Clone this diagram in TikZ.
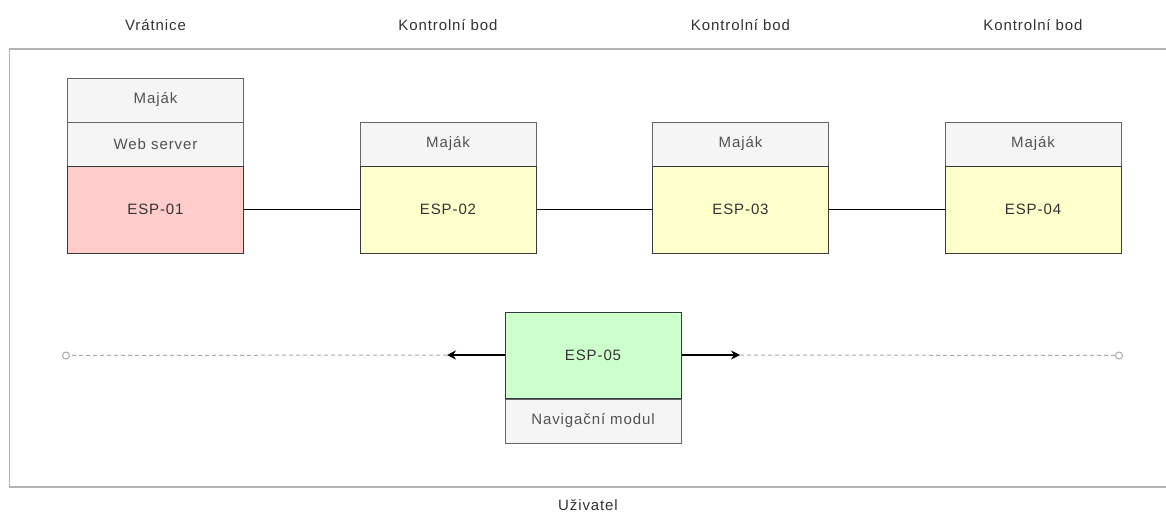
\documentclass[tikz,border=0pt]{standalone}
\usepackage{fontspec}
\setmainfont[LetterSpace=6]{Liberation Sans}
\usetikzlibrary{arrows.meta}
\definecolor{txt}{HTML}{333333}
\definecolor{grayfill}{HTML}{F5F5F5}
\definecolor{graystroke}{HTML}{666666}
\definecolor{darkstroke}{HTML}{36393D}
\definecolor{pinkfill}{HTML}{FFCCCC}
\definecolor{yellowfill}{HTML}{FFFFCC}
\definecolor{greenfill}{HTML}{CCFFCC}
\definecolor{framegray}{HTML}{B3B3B3}
\definecolor{dashgray}{HTML}{AAAAAA}
\begin{document}
\begin{tikzpicture}[x=1pt,y=-1pt,
  every node/.style={font=\fontsize{15}{17}\selectfont, text=txt, inner sep=0pt},
  subbox/.style={draw=graystroke, fill=grayfill, line width=1pt, minimum width=176pt, minimum height=44pt, text=txt!85!white},
  espbox/.style={draw=darkstroke, line width=1pt, minimum width=176pt, minimum height=87pt},
  title/.style={text=txt},
  link/.style={line width=1.5pt, black},
  arrowlink/.style={line width=1.5pt, black, -{Stealth[length=9pt,width=9pt]}},
  dashlink/.style={dashgray, line width=1pt, dash pattern=on 4pt off 3pt},
  endcircle/.style={circle, draw=dashgray, fill=white, line width=1pt, minimum size=7pt}
]
\useasboundingbox (0,0) rectangle (1166,514);
% outer frame
\draw[framegray, line width=1.2pt] (1170,49) -- (9.5,49) -- (9.5,487) -- (1170,487);
% titles
\node[title] (t1) at (155.5,25) {Vrátnice};
\node[title] (t2) at (448,25) {Kontrolní bod};
\node[title] (t3) at (740.5,25) {Kontrolní bod};
\node[title] (t4) at (1033,25) {Kontrolní bod};
\node[title] (tu) at (588,505) {Uživatel};
% ESP-01 group
\node[subbox] (m1) at (155.5,100) {Maják};
\node[subbox] (w1) at (155.5,144) {Web server};
\node[espbox, fill=pinkfill] (e1) at (155.5,209.5) {ESP-01};
% ESP-02
\node[subbox] (m2) at (448,144) {Maják};
\node[espbox, fill=yellowfill] (e2) at (448,209.5) {ESP-02};
% ESP-03
\node[subbox] (m3) at (740.5,144) {Maják};
\node[espbox, fill=yellowfill] (e3) at (740.5,209.5) {ESP-03};
% ESP-04
\node[subbox] (m4) at (1033,144) {Maják};
\node[espbox, fill=yellowfill] (e4) at (1033,209.5) {ESP-04};
% ESP-05
\node[espbox, fill=greenfill, minimum height=86pt] (e5) at (593,355) {ESP-05};
\node[subbox, anchor=north] (n5) at (e5.south) {Navigační modul};
% links
\draw[link] (e1.east) -- (e2.west);
\draw[link] (e2.east) -- (e3.west);
\draw[link] (e3.east) -- (e4.west);
% arrows and dashed lines
\coordinate (al) at (447,355);
\coordinate (ar) at (740,355);
\node[endcircle] (cl) at (66,355.5) {};
\node[endcircle] (cr) at (1119,355.5) {};
\draw[dashlink] (al) -- (cl);
\draw[dashlink] (ar) -- (cr);
\draw[arrowlink] (e5.west) -- (al);
\draw[arrowlink] (e5.east) -- (ar);
\end{tikzpicture}
\end{document}
